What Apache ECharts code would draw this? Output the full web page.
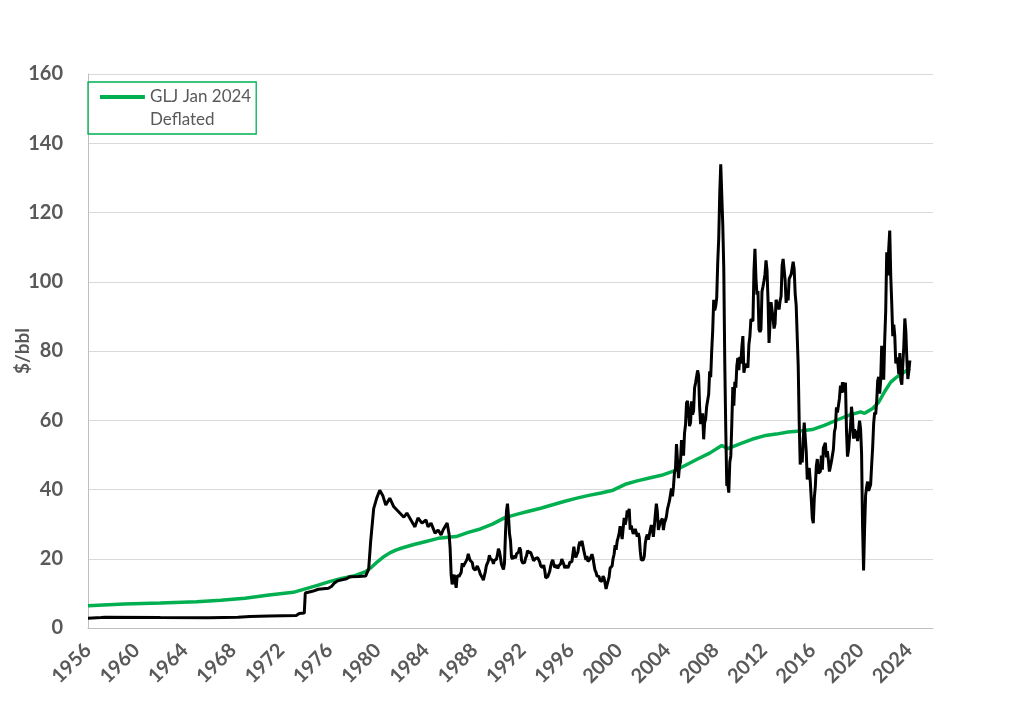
<!DOCTYPE html>
<html>
<head>
<meta charset="utf-8">
<script src="https://cdn.jsdelivr.net/npm/echarts@6/dist/echarts.min.js"></script>
<style>
html,body{margin:0;padding:0;background:#fff;}
#chart{width:1024px;height:702px;}
</style>
</head>
<body>
<div id="chart"></div>
<script>
// ---- Data ----
// Black line (nominal oil price, $/bbl): irregular readings 1956-1985
const earlyDates = ["1956-01","1957-02","1957-06","1962-01","1966-01","1968-06","1969-06","1971-01","1973-04","1973-07","1973-12",
  "1974-01","1974-08","1975-02","1975-12","1976-03","1976-06","1976-09","1977-06","1977-09","1978-06","1979-01","1979-04","1979-06",
  "1979-09","1979-12","1980-03","1980-06","1980-09","1981-01","1981-05","1981-10","1982-03","1982-06","1982-10","1983-02","1983-05",
  "1983-09","1984-01","1984-03","1984-06","1984-10","1985-01","1985-04","1985-06","1985-10","1985-12"];
const earlyPrices = [2.8,3.0,3.1,3.0,2.95,3.1,3.3,3.5,3.6,4.2,4.3,
  10.1,10.6,11.2,11.5,12.0,13.0,13.6,14.2,14.8,14.9,15.0,17.0,25.0,
  34.5,37.5,39.8,38.3,35.5,37.5,35.0,33.5,32.0,33.2,31.2,29.2,31.8,
  30.3,31.2,29.2,30.3,27.4,28.3,26.9,28.3,30.3,27.0];
// Monthly readings from Jan 1986
const monthlyStartYear = 1986;
const monthlyPrices = [
  22.9,15.4,12.6,12.8,15.4,13.4,11.6,15.1,14.9,14.9,15.2,16.1,
  18.7,17.7,18.3,18.6,19.4,20.0,21.4,20.3,19.5,19.8,18.9,17.3,
  17.1,16.7,16.2,17.9,17.4,16.5,15.5,15.5,14.5,13.8,14.0,16.3,
  18.0,17.8,19.4,21.0,20.0,20.0,19.6,18.5,19.6,20.1,19.8,21.1,
  22.9,22.1,20.4,18.4,18.2,16.9,18.6,27.2,33.7,35.9,32.3,27.3,
  25.2,20.5,19.9,20.8,21.2,20.2,21.4,21.7,21.9,23.2,22.5,19.5,
  18.8,19.0,18.9,20.2,20.9,22.4,21.8,21.4,21.9,21.7,20.3,19.4,
  19.0,20.1,20.3,20.3,19.9,19.1,17.9,18.0,17.5,18.2,16.7,14.5,
  15.0,14.8,14.7,16.4,17.9,19.1,19.7,18.4,17.5,17.7,18.1,17.2,
  18.0,18.5,18.6,19.9,19.7,18.4,17.3,18.0,18.2,17.4,18.0,19.0,
  18.9,19.1,21.3,23.5,21.2,20.4,21.3,21.9,23.9,24.9,23.7,25.2,
  25.1,22.2,20.9,19.7,20.8,19.2,19.6,19.9,19.8,21.3,20.2,18.3,
  16.7,16.1,15.0,15.4,14.9,13.7,14.2,13.5,15.0,14.4,12.9,11.3,
  12.5,12.0,14.7,17.3,17.8,17.9,20.1,21.3,23.9,22.6,25.0,26.1,
  27.3,29.4,29.9,25.7,28.8,31.8,29.8,31.2,33.9,33.1,34.4,28.4,
  29.6,29.6,27.2,27.4,28.6,27.6,26.4,27.4,26.2,22.2,19.6,19.3,
  19.7,20.7,24.5,26.2,27.0,25.5,26.9,28.4,29.7,28.9,26.3,29.4,
  32.9,35.9,33.5,28.3,28.1,30.7,30.8,31.6,28.3,30.3,31.1,32.2,
  34.3,34.7,36.7,36.7,40.3,38.0,40.8,44.9,45.9,53.1,48.5,43.3,
  46.8,48.0,54.3,53.0,49.8,56.3,58.7,65.0,65.6,62.4,58.3,59.4,
  65.5,61.6,62.7,69.4,70.8,70.9,74.4,73.0,63.8,58.9,59.1,62.0,
  54.5,59.3,60.4,64.0,63.5,67.5,74.1,72.4,79.9,85.8,94.8,91.7,
  93.0,95.4,105.5,112.6,125.4,133.9,133.4,116.7,104.1,76.6,57.3,41.1,
  41.7,39.1,47.9,49.7,59.0,69.6,64.2,71.1,69.4,75.7,78.0,74.5,
  78.3,76.4,81.2,84.3,73.7,75.3,76.3,76.6,75.2,81.9,84.3,89.2,
  89.2,88.6,102.9,109.5,100.9,96.3,97.3,86.3,85.5,86.3,97.2,98.6,
  100.3,102.2,106.2,103.3,94.7,82.3,87.9,94.1,94.5,89.5,86.5,87.9,
  94.8,95.3,92.9,92.0,94.5,95.8,104.6,106.6,106.3,100.5,93.9,97.6,
  94.6,100.8,100.8,102.1,102.2,105.8,103.6,96.5,93.2,84.4,75.8,59.3,
  47.2,50.6,47.8,54.5,59.3,59.8,50.9,42.9,45.5,46.2,42.4,37.2,
  31.7,30.3,37.5,40.8,46.7,48.8,44.7,44.7,45.2,49.8,45.7,52.0,
  52.5,53.5,49.3,51.1,48.5,45.2,46.6,48.0,49.8,51.6,56.6,57.9,
  63.7,62.2,62.7,66.3,70.0,67.9,71.0,68.1,70.2,70.8,57.0,49.5,
  51.4,55.0,58.2,63.9,60.8,54.7,57.4,54.8,57.0,54.0,57.0,59.9,
  57.5,50.5,29.2,16.6,28.6,38.3,40.7,42.3,39.6,39.4,41.4,47.0,
  52.0,59.0,62.3,61.7,65.2,71.4,72.5,67.7,71.6,81.5,79.2,71.7,
  83.2,91.6,108.5,101.8,109.6,114.8,101.6,93.7,84.3,87.6,84.4,76.4,
  78.1,76.8,73.3,79.4,71.6,70.3,76.1,81.4,89.4,85.6,77.7,71.9,
  74.2,77.3
];
// Green line: GLJ Jan 2024 Deflated
const gljDates = ["1956-01","1959-01","1962-01","1965-01","1967-01","1969-01","1971-01","1973-01","1974-01","1975-01","1976-01",
  "1977-01","1978-01","1979-01","1979-07","1980-01","1980-07","1981-01","1981-07","1982-01","1983-01","1984-01","1985-01","1986-07","1987-07","1988-07",
  "1989-07","1990-07","1991-07","1992-07","1993-07","1994-07","1995-07","1996-07","1997-07","1998-07","1999-07","2000-07",
  "2001-07","2002-07","2003-07","2004-07","2005-07","2006-07","2007-07","2008-07","2009-01","2010-01","2011-01","2012-01",
  "2013-01","2014-01","2015-01","2016-01","2017-01","2018-01","2019-01","2020-01","2020-05","2021-01","2021-07","2022-01",
  "2022-07","2023-01","2023-07","2024-02"];
const gljValues = [6.4,6.9,7.2,7.6,8.0,8.6,9.5,10.3,11.3,12.3,13.4,
  14.3,15.0,16.3,17.6,19.2,20.6,21.7,22.5,23.1,24.1,25.0,25.9,26.4,27.6,28.6,
  30.0,31.8,32.8,33.7,34.6,35.6,36.6,37.5,38.3,39.0,39.8,41.5,
  42.5,43.3,44.1,45.3,47.0,48.8,50.5,52.7,51.8,53.2,54.5,55.5,
  56.0,56.6,56.9,57.3,58.5,60.0,61.4,62.4,62.0,63.4,65.2,68.3,
  71.0,72.5,73.6,75.0];
const xTickStart = 1956, xTickEnd = 2026, xTickStep = 4;
const yTickMax = 160, yTickStep = 20;
const legendName = 'GLJ Jan 2024 Deflated';

// ---- Build ----
const toYear = s => { const p = s.split('-').map(Number); return p[0] + (p[1] - 1) / 12; };
const blackData = earlyDates.map((d, i) => [toYear(d), earlyPrices[i]])
  .concat(monthlyPrices.map((v, i) => [monthlyStartYear + i / 12, v]));
const greenData = gljDates.map((d, i) => [toYear(d), gljValues[i]]);

const GREEN = '#00B050', GREY = '#595959';
const chart = echarts.init(document.getElementById('chart'), null, {renderer: 'canvas'});
chart.setOption({
  animation: false,
  backgroundColor: '#ffffff',
  grid: {left: 88, right: 91, top: 74, bottom: 74, containLabel: false, outerBoundsMode: 'none'},
  legend: {
    data: [legendName],
    left: 88, top: 82,
    orient: 'vertical',
    padding: [3, 5, 3, 12],
    borderColor: GREEN, borderWidth: 1.3,
    itemWidth: 45, itemHeight: 26,
    icon: 'path://M0,0 L45,0 L45,4 L0,4 Z M0,26 L0.05,26 L0.05,26.05 L0,26.05 Z',
    itemStyle: {color: GREEN, borderWidth: 0},
    formatter: () => 'GLJ Jan 2024\nDeflated',
    textStyle: {fontFamily: 'Lato', fontSize: 17, color: GREY, lineHeight: 23},
    selectedMode: false
  },
  xAxis: {
    type: 'value', min: xTickStart, max: xTickEnd, interval: xTickStep,
    axisLine: {show: true, lineStyle: {color: '#BFBFBF', width: 1}},
    axisTick: {show: false},
    splitLine: {show: false},
    axisLabel: {
      rotate: 45, margin: 19, color: GREY, fontFamily: 'Lato', fontWeight: 'bold', fontSize: 20,
      showMaxLabel: false,
      formatter: v => String(v)
    }
  },
  yAxis: {
    type: 'value', min: 0, max: yTickMax, interval: yTickStep,
    name: '$/bbl', nameLocation: 'middle', nameGap: 56, nameRotate: 90, nameMoveOverlap: false,
    nameTextStyle: {color: GREY, fontFamily: 'Lato', fontWeight: 'bold', fontSize: 19},
    axisLine: {show: true, lineStyle: {color: '#BFBFBF', width: 1}},
    axisTick: {show: false},
    splitLine: {show: true, lineStyle: {color: '#D9D9D9', width: 1}},
    axisLabel: {margin: 25, color: GREY, fontFamily: 'Lato', fontWeight: 'bold', fontSize: 20}
  },
  series: [
    {name: legendName, type: 'line', data: greenData, showSymbol: false, symbol: 'none',
     lineStyle: {color: GREEN, width: 3.5}, itemStyle: {color: GREEN}, z: 2},
    {name: 'Oil price', type: 'line', data: blackData, showSymbol: false, symbol: 'none',
     lineStyle: {color: '#000000', width: 3}, itemStyle: {color: '#000000'}, z: 3}
  ]
});
</script>
</body>
</html>
